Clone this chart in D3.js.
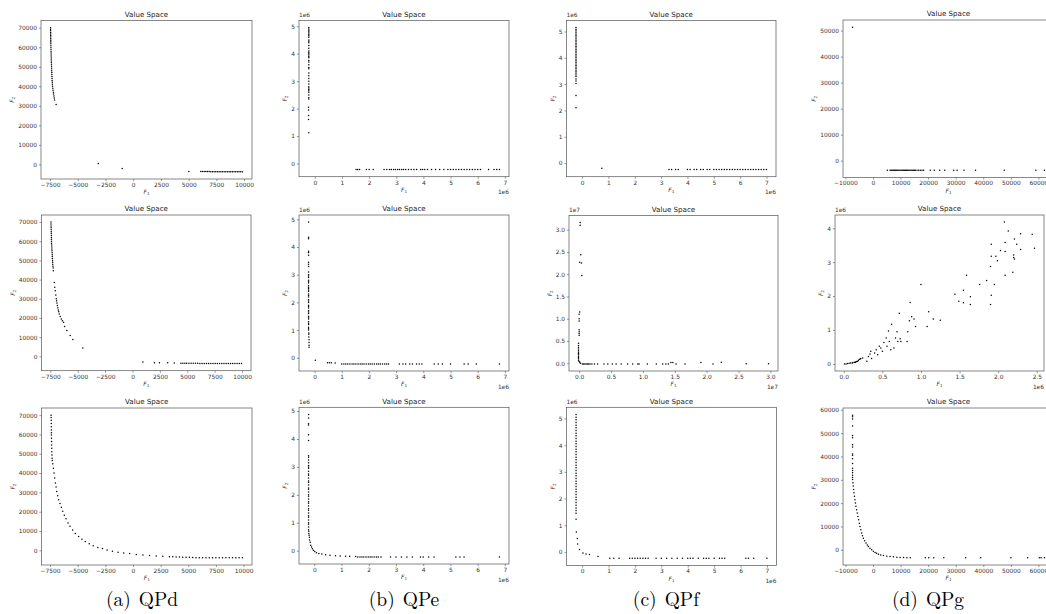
<!DOCTYPE html>
<html>
<head>
<meta charset="utf-8">
<script src="https://cdnjs.cloudflare.com/ajax/libs/d3/7.8.5/d3.min.js"></script>
<style>
  body { margin: 0; background: #fff; }
  svg { display: block; font-family: "DejaVu Sans", sans-serif; }
</style>
</head>
<body>
<svg id="fig" width="1046" height="614"></svg>
<script>
// points, [F1, F2]; e6 / e7 panels are stored in those units

// QPd, three runs
const qpdTop = [[-7450,70000],[-7450,69200],[-7448,68400],[-7446,67600],[-7444,66800],[-7442,66000],[-7440,65200],[-7438,64400],[-7435,63600],[-7432,62800],[-7428,62000],[-7424,61000],[-7420,60000],[-7415,59000],[-7410,58000],[-7405,57000],[-7400,56000],[-7395,55000],[-7390,54000],[-7385,53000],[-7380,52000],[-7372,51000],[-7365,50000],[-7358,49000],[-7350,48000],[-7342,47000],[-7334,46000],[-7326,45000],[-7318,44000],[-7310,43000],[-7300,42000],[-7290,41000],[-7270,40000],[-7250,39000],[-7230,38000],[-7200,37000],[-7180,36000],[-7150,35000],[-7120,34000],[-7090,33000],[-6950,30700],
  [-3150,500],[-990,-2070],[5020,-3600],[6100,-3650],[6250,-3650],[6400,-3700],[6550,-3700],[6700,-3700],[6850,-3700],[7000,-3750],[7150,-3750],[7300,-3750],[7450,-3750],[7600,-3750],[7750,-3800],[7900,-3800],[8050,-3800],[8200,-3800],[8350,-3800],[8500,-3800],[8650,-3800],[8800,-3800],[8950,-3800],[9100,-3800],[9250,-3800],[9400,-3800],[9550,-3800],[9700,-3800],[9850,-3800]];

const qpdMid = [[-7440,70000],[-7440,69000],[-7435,68000],[-7430,67000],[-7425,66000],[-7420,65000],[-7415,64000],[-7410,63000],[-7405,62000],[-7400,61000],[-7395,60000],[-7390,59000],[-7380,58000],[-7370,57000],[-7360,56000],[-7350,55000],[-7340,54000],[-7330,53000],[-7320,52000],[-7310,51000],[-7300,50000],[-7290,49000],[-7280,48000],[-7265,47000],[-7250,46000],[-7230,44600],[-7140,38500],[-7100,36000],[-7050,34200],[-7000,32000],[-6960,30000],[-6930,29000],[-6900,27800],[-6860,26500],[-6820,25300],[-6780,24200],[-6740,23200],[-6690,22100],[-6600,20800],[-6500,19500],[-6400,18600],[-6290,17800],[-6200,15500],[-5990,13500],[-5690,10900],[-5450,8800],[-4540,4300],
  [950,-2940],[2000,-3280],[2460,-3300],[3210,-3400],[3810,-3500],[4420,-3550],[4600,-3550],[4780,-3600],[4950,-3600],[5150,-3600],[5350,-3650],[5550,-3650],[5750,-3650],[5950,-3650],[6150,-3700],[6350,-3700],[6550,-3700],[6750,-3700],[6950,-3700],[7150,-3750],[7350,-3750],[7550,-3750],[7750,-3750],[7950,-3750],[8150,-3750],[8350,-3800],[8550,-3800],[8750,-3800],[8950,-3800],[9150,-3800],[9350,-3800],[9550,-3800],[9750,-3800],[9950,-3800]];

const qpdBottom = [[-7410,70000],[-7405,68800],[-7400,67400],[-7395,65700],[-7390,64000],[-7385,62300],[-7380,60900],[-7375,59700],[-7370,58000],[-7365,56300],[-7360,54600],[-7350,52800],[-7340,51100],[-7330,49400],[-7320,47700],[-7300,46500],
  [-7260,44800],[-7200,42500],[-7140,40000],[-7080,37400],[-7020,34800],[-6960,32800],[-6900,30500],[-6810,28300],[-6720,26200],[-6600,24200],[-6480,22300],[-6360,20200],[-6210,18200],[-6060,16300],[-5880,14200],[-5700,12500],[-5460,10500],[-5220,8700],[-4920,7200],[-4620,5800],[-4320,4600],[-3960,3400],[-3600,2400],[-3180,1500],[-2760,900],[-2340,200],[-1860,-500],[-1350,-1000],[-840,-1400],[-300,-1700],[300,-2100],[900,-2400],[1500,-2700],[2100,-2900],[2700,-3100],[3300,-3300],[3600,-3350],[3900,-3400],[4200,-3500],[4500,-3600],[4800,-3600],[5100,-3600],[5400,-3700],[5700,-3800],[6000,-3800],[6300,-3800],[6600,-3800],[6900,-3800],[7200,-3850],[7500,-3900],[7800,-3900],[8100,-3900],[8400,-3900],[8700,-3900],[9000,-3900],[9300,-3900],[9600,-3900],[9900,-3900]];

// QPe (x 1e6)
const qpeTop = [[-0.22,4.95],[-0.22,4.9],[-0.22,4.85],[-0.22,4.8],[-0.22,4.75],[-0.22,4.7],[-0.22,4.65],[-0.22,4.6],[-0.22,4.5],[-0.22,4.45],[-0.22,4.4],[-0.22,4.3],[-0.22,4.2],[-0.22,4.1],[-0.22,4.05],[-0.22,4.0],[-0.22,3.95],[-0.22,3.9],[-0.22,3.85],[-0.22,3.75],[-0.22,3.7],[-0.22,3.6],[-0.22,3.5],[-0.22,3.45],[-0.22,3.3],[-0.22,3.2],[-0.22,3.1],[-0.22,3.0],[-0.22,2.9],[-0.22,2.8],[-0.22,2.75],[-0.22,2.7],[-0.22,2.65],[-0.22,2.6],[-0.22,2.5],[-0.22,2.4],[-0.22,2.35],[-0.23,2.05],[-0.23,1.95],[-0.23,1.75],[-0.23,1.6],[-0.22,1.12],
  [1.52,-0.22],[1.58,-0.22],[1.65,-0.22],[1.9,-0.22],[2.0,-0.22],[2.15,-0.22],[2.55,-0.22],[2.65,-0.22],[2.75,-0.22],[2.82,-0.22],[2.9,-0.22],[2.97,-0.22],[3.05,-0.22],[3.12,-0.22],[3.2,-0.22],[3.27,-0.22],[3.35,-0.22],[3.45,-0.22],[3.55,-0.22],[3.65,-0.22],[3.75,-0.22],[3.9,-0.22],[3.97,-0.22],[4.05,-0.22],[4.15,-0.22],[4.3,-0.22],[4.45,-0.22],[4.6,-0.22],[4.75,-0.22],[4.9,-0.22],[5.0,-0.22],[5.1,-0.22],[5.2,-0.22],[5.3,-0.22],[5.4,-0.22],[5.5,-0.22],[5.6,-0.22],[5.7,-0.22],[5.8,-0.22],[5.9,-0.22],[6.0,-0.22],[6.1,-0.22],[6.4,-0.22],[6.6,-0.22],[6.7,-0.22],[6.8,-0.22]];

const qpeMid = [[-0.22,4.9],[-0.22,4.35],[-0.22,4.3],[-0.22,3.85],[-0.22,3.8],[-0.22,3.7],[-0.22,3.45],[-0.22,3.38],[-0.22,3.3],[-0.22,3.1],[-0.22,3.0],[-0.22,2.95],[-0.22,2.9],[-0.22,2.8],[-0.22,2.75],[-0.22,2.7],[-0.22,2.6],[-0.22,2.55],[-0.22,2.5],[-0.22,2.45],[-0.22,2.4],[-0.22,2.3],[-0.22,2.25],[-0.22,2.2],[-0.22,2.1],[-0.22,2.05],[-0.22,2.0],[-0.22,1.9],[-0.22,1.85],[-0.22,1.8],[-0.22,1.7],[-0.22,1.65],[-0.22,1.6],[-0.22,1.5],[-0.22,1.45],[-0.22,1.4],[-0.22,1.3],[-0.22,1.25],[-0.22,1.2],[-0.22,1.1],[-0.22,1.05],[-0.22,1.0],[-0.21,0.9],[-0.21,0.85],[-0.21,0.75],[-0.2,0.65],[-0.2,0.55],[-0.2,0.45],[-0.2,0.38],
  [0.03,-0.09],[0.48,-0.18],[0.55,-0.18],[0.62,-0.18],[0.76,-0.19],[1.0,-0.22],[1.08,-0.22],[1.15,-0.22],[1.22,-0.22],[1.3,-0.22],[1.38,-0.22],[1.45,-0.22],[1.52,-0.22],[1.6,-0.22],[1.68,-0.22],[1.75,-0.22],[1.82,-0.22],[1.9,-0.22],[1.98,-0.22],[2.05,-0.22],[2.12,-0.22],[2.2,-0.22],[2.28,-0.22],[2.35,-0.22],[2.42,-0.22],[2.5,-0.22],[2.58,-0.22],[2.65,-0.22],[2.72,-0.22],[3.12,-0.22],[3.25,-0.22],[3.35,-0.22],[3.5,-0.22],[3.6,-0.22],[3.75,-0.22],[3.85,-0.22],[3.95,-0.22],[4.4,-0.22],[4.55,-0.22],[4.7,-0.22],[5.0,-0.22],[5.5,-0.22],[5.65,-0.22],[5.95,-0.22],[6.8,-0.22]];

const qpeBottom = [[-0.21,4.88],[-0.21,4.75],[-0.21,4.55],[-0.21,4.5],[-0.21,4.15],[-0.21,3.95],[-0.21,3.4],[-0.21,3.35],[-0.21,3.25],[-0.21,3.15],[-0.21,3.05],[-0.21,3.0],[-0.21,2.95],[-0.21,2.85],[-0.21,2.75],[-0.21,2.7],[-0.21,2.6],[-0.21,2.5],[-0.21,2.45],[-0.21,2.35],[-0.21,2.25],[-0.21,2.2],[-0.21,2.1],[-0.21,2.0],[-0.21,1.95],[-0.21,1.85],[-0.21,1.75],[-0.21,1.7],[-0.21,1.6],[-0.21,1.5],[-0.21,1.45],[-0.21,1.35],[-0.21,1.25],[-0.21,1.2],[-0.21,1.1],[-0.21,1.0],[-0.21,0.95],[-0.21,0.85],[-0.21,0.75],[-0.2,0.7],[-0.2,0.62],[-0.19,0.55],
  [-0.18,0.48],[-0.17,0.38],[-0.15,0.3],[-0.13,0.2],[-0.1,0.13],[-0.07,0.07],[-0.03,0.02],[0.02,-0.03],[0.08,-0.07],[0.17,-0.1],[0.28,-0.12],[0.42,-0.14],[0.58,-0.16],[0.78,-0.18],[0.95,-0.19],[1.15,-0.2],[1.3,-0.2],[1.52,-0.21],[1.6,-0.22],[1.68,-0.22],[1.75,-0.22],[1.82,-0.22],[1.9,-0.22],[1.98,-0.22],[2.05,-0.22],[2.12,-0.22],[2.2,-0.22],[2.28,-0.22],[2.35,-0.22],[2.45,-0.22],[2.8,-0.22],[3.0,-0.22],[3.2,-0.22],[3.4,-0.22],[3.6,-0.22],[3.9,-0.22],[4.0,-0.22],[4.2,-0.22],[4.4,-0.22],[5.2,-0.22],[5.35,-0.22],[5.5,-0.22],[6.8,-0.22]];

// QPf (x 1e6, middle run x 1e7)
const qpfTop = [[-0.23,5.15],[-0.23,5.09],[-0.23,5.03],[-0.23,4.97],[-0.23,4.91],[-0.23,4.85],[-0.23,4.79],[-0.23,4.73],[-0.23,4.67],[-0.23,4.61],[-0.23,4.55],[-0.23,4.49],[-0.23,4.43],[-0.23,4.37],[-0.23,4.31],[-0.23,4.25],[-0.23,4.19],[-0.23,4.13],[-0.23,4.07],[-0.23,4.01],[-0.23,3.95],[-0.23,3.89],[-0.23,3.83],[-0.23,3.77],[-0.23,3.71],[-0.23,3.65],[-0.23,3.59],[-0.23,3.53],[-0.23,3.47],[-0.23,3.41],[-0.23,3.35],[-0.23,3.29],[-0.23,3.2],[-0.23,3.12],[-0.23,3.02],[-0.23,2.57],[-0.23,2.1],[0.75,-0.2],
  [3.3,-0.25],[3.4,-0.25],[3.55,-0.25],[3.65,-0.25],[4.0,-0.25],[4.1,-0.25],[4.25,-0.25],[4.35,-0.25],[4.5,-0.25],[4.6,-0.25],[4.75,-0.25],[4.85,-0.25],[5.0,-0.25],[5.1,-0.25],[5.2,-0.25],[5.3,-0.25],[5.4,-0.25],[5.5,-0.25],[5.6,-0.25],[5.7,-0.25],[5.8,-0.25],[5.9,-0.25],[6.0,-0.25],[6.1,-0.25],[6.2,-0.25],[6.3,-0.25],[6.4,-0.25],[6.5,-0.25],[6.6,-0.25],[6.7,-0.25],[6.8,-0.25],[6.9,-0.25],[7.0,-0.25]];

const qpfMid = [[0.016,3.16],[0.016,3.1],[0.026,2.44],[0.01,2.27],[0.037,2.25],[0.042,1.97],[0.01,1.15],[0,1.1],[0,1.0],[0,0.95],[0,0.75],[0,0.71],[0,0.67],[0,0.63],[-0.01,0.45],[-0.01,0.4],[-0.01,0.36],[-0.01,0.32],[-0.01,0.28],[-0.01,0.25],[-0.01,0.22],[-0.01,0.19],[-0.01,0.16],[-0.01,0.13],[-0.01,0.1],[-0.01,0.07],[0,0.04],[0.01,0.02],[0.02,0.0],
  [0.05,-0.015],[0.07,-0.015],[0.09,-0.015],[0.11,-0.015],[0.13,-0.015],[0.15,-0.015],[0.17,-0.015],[0.2,-0.015],[0.24,-0.015],[0.29,-0.015],[0.39,-0.015],[0.45,-0.015],[0.52,-0.015],[0.58,-0.015],[0.66,-0.015],[0.76,-0.015],[0.84,-0.015],[0.92,-0.015],[0.94,-0.015],[1.07,-0.015],[1.21,-0.015],[1.31,-0.015],[1.36,-0.015],[1.4,-0.015],[1.44,0.015],[1.47,0.015],[1.52,-0.015],[1.66,-0.015],[1.91,0.015],[2.1,-0.015],[2.23,0.02],[2.62,-0.01],[2.97,-0.01]];

const qpfBottom = [[-0.23,5.15],[-0.23,5.05],[-0.23,4.95],[-0.23,4.85],[-0.23,4.75],[-0.23,4.65],[-0.23,4.55],[-0.23,4.45],[-0.23,4.35],[-0.23,4.25],[-0.23,4.15],[-0.23,4.05],[-0.23,3.95],[-0.23,3.85],[-0.23,3.75],[-0.23,3.65],[-0.23,3.55],[-0.23,3.45],[-0.23,3.35],[-0.23,3.25],[-0.23,3.15],[-0.23,3.05],[-0.23,2.95],[-0.23,2.85],[-0.23,2.75],[-0.23,2.65],[-0.23,2.55],[-0.23,2.45],[-0.23,2.35],[-0.23,2.25],[-0.23,2.15],[-0.23,2.05],[-0.23,1.95],[-0.23,1.85],[-0.23,1.75],[-0.23,1.65],[-0.23,1.55],[-0.23,1.45],[-0.23,1.22],[-0.22,0.75],[-0.18,0.5],[-0.17,0.3],[-0.1,0.09],[0.03,-0.04],[0.15,-0.08],[0.28,-0.1],[0.6,-0.17],
  [1.05,-0.24],[1.2,-0.24],[1.4,-0.24],[1.8,-0.24],[1.9,-0.24],[2.0,-0.24],[2.1,-0.24],[2.2,-0.24],[2.3,-0.24],[2.4,-0.24],[2.5,-0.24],[2.8,-0.24],[3.0,-0.24],[3.2,-0.24],[3.4,-0.24],[3.6,-0.24],[3.8,-0.24],[4.0,-0.24],[4.1,-0.24],[4.2,-0.24],[4.4,-0.24],[4.6,-0.24],[4.7,-0.24],[4.8,-0.24],[5.0,-0.24],[5.2,-0.24],[5.3,-0.24],[5.4,-0.24],[6.2,-0.24],[6.3,-0.24],[6.5,-0.24],[7.0,-0.24]];

// QPg (middle run x 1e6)
const qpgTop = [[-7400,51300],
  [5230,-3700],[6200,-3700],[6600,-3700],[7000,-3700],[7400,-3700],[7800,-3700],[8200,-3700],[8600,-3700],[9000,-3700],[9400,-3700],[9800,-3700],[10200,-3700],[10600,-3700],[11000,-3700],[11400,-3700],[11800,-3700],[12200,-3700],[12600,-3700],[13000,-3700],[13400,-3700],[13800,-3700],[14200,-3700],[14600,-3700],[15000,-3700],[15400,-3700],[16000,-3700],[16600,-3700],[17200,-3700],[17800,-3700],[18370,-3700],[20800,-3700],[22260,-3700],[24200,-3700],[26030,-3700],[29300,-3700],[30500,-3700],[33000,-3700],[37200,-3700],[47600,-3700],[59100,-3700],[62200,-3700]];

const qpgMid = [[0.01,0],[0.03,0],[0.05,0.01],[0.07,0.02],[0.09,0.03],[0.11,0.03],[0.12,0.04],[0.14,0.05],[0.15,0.05],[0.16,0.06],[0.17,0.07],[0.18,0.08],[0.19,0.1],[0.2,0.13],[0.21,0.14],[0.22,0.16],[0.245,0.175],[0.3,0.08],[0.32,0.22],[0.34,0.29],[0.35,0.37],[0.36,0.16],[0.4,0.32],[0.42,0.42],[0.44,0.27],[0.46,0.52],[0.48,0.47],[0.5,0.37],[0.52,0.63],[0.55,0.76],[0.56,0.52],[0.58,0.97],[0.59,0.66],[0.61,0.42],[0.62,1.17],[0.65,0.47],[0.67,0.76],[0.69,0.95],[0.7,0.66],[0.72,1.49],[0.73,0.74],[0.74,0.66],[0.82,0.66],[0.83,0.95],[0.85,1.27],[0.86,1.81],[0.88,1.39],[0.91,1.32],[0.93,1.1],[1.0,2.34],[1.08,1.1],[1.1,1.54],[1.16,1.32],[1.25,1.29],[1.44,2.05],[1.49,1.85],[1.55,2.17],[1.55,1.8],[1.59,2.61],[1.64,1.98],[1.64,1.75],[1.76,2.34],[1.85,2.46],[1.9,2.87],[1.91,3.53],[1.91,3.17],[1.91,2.02],[1.9,1.75],[1.95,2.34],[1.97,3.17],[1.99,3.04],[2.03,3.34],[2.08,4.18],[2.09,3.58],[2.09,3.31],[2.09,2.61],[2.13,3.92],[2.19,2.7],[2.2,3.21],[2.2,3.14],[2.21,3.09],[2.21,3.68],[2.24,3.53],[2.29,3.84],[2.29,3.37],[2.44,3.82],[2.47,3.41]];

const qpgBottom = [[-7420,57700],[-7420,57000],[-7420,56000],[-7420,53000],[-7420,49000],[-7420,48000],[-7420,45000],[-7420,44000],[-7420,41000],[-7420,40500],[-7420,39000],[-7420,37000],[-7420,35000],[-7420,34000],[-7420,33000],[-7420,32000],[-7420,31000],[-7420,30100],
  [-7300,28700],[-7180,27300],[-7050,25800],[-6930,24400],[-6750,23000],[-6570,21500],[-6380,20100],[-6200,18700],[-5960,17200],[-5720,15800],[-5480,14300],[-5230,12900],[-4980,11400],[-4740,10000],[-4440,8600],[-4140,7200],[-3840,6000],[-3530,5000],[-3050,3900],[-2550,2900],[-2100,2100],[-1700,1400],[-1100,700],[-490,0],[120,-600],[730,-1150],[1300,-1500],[1950,-1870],[2800,-2200],[3770,-2440],[5000,-2700],[6200,-2870],[7400,-3000],[8640,-3160],[9800,-3250],[11070,-3300],[12300,-3380],[13500,-3440],
  [18980,-3440],[20200,-3440],[22020,-3440],[25670,-3440],[33580,-3440],[39050,-3440],[50000,-3440],[56080,-3440],[60340,-3440],[60950,-3440],[62170,-3440]];

// tick values
const qpdF1Ticks = [-7500, -5000, -2500, 0, 2500, 5000, 7500, 10000];
const qpdF2Ticks = [0, 10000, 20000, 30000, 40000, 50000, 60000, 70000];
const e6F1Ticks = [0, 1, 2, 3, 4, 5, 6, 7];
const e6F2Ticks = [0, 1, 2, 3, 4, 5];
const qpfMidTicks = [0, 0.5, 1, 1.5, 2, 2.5, 3];
const qpgF1Ticks = [-10000, 0, 10000, 20000, 30000, 40000, 50000, 60000];
const qpgTopF2Ticks = [0, 10000, 20000, 30000, 40000, 50000];
const qpgMidF1Ticks = [0, 0.5, 1, 1.5, 2, 2.5];
const qpgMidF2Ticks = [0, 1, 2, 3, 4];
const qpgBottomF2Ticks = [0, 10000, 20000, 30000, 40000, 50000, 60000];

const captionLetters = ["(a)", "(b)", "(c)", "(d)"];
const captionNames = ["QPd", "QPe", "QPf", "QPg"];

const svg = d3.select("#fig");
const fmtInt = d3.format("d");
const fmt1 = d3.format(".1f");

const panels = [
  {pts: qpdTop, xt: qpdF1Ticks, yt: qpdF2Ticks, xf: fmtInt, yf: fmtInt, box: {l: 41, r: 252, t: 20.5, b: 179}},
  {pts: qpeTop, xt: e6F1Ticks, yt: e6F2Ticks, xf: fmtInt, yf: fmtInt, off: "1e6", box: {l: 299, r: 509, t: 20.5, b: 176.7}},
  {pts: qpfTop, xt: e6F1Ticks, yt: e6F2Ticks, xf: fmtInt, yf: fmtInt, off: "1e6", box: {l: 566.5, r: 776, t: 20.5, b: 176.7}},
  {pts: qpgTop, xt: qpgF1Ticks, yt: qpgTopF2Ticks, xf: fmtInt, yf: fmtInt, box: {l: 843, r: 1054, t: 20, b: 177.5}},
  {pts: qpdMid, xt: qpdF1Ticks, yt: qpdF2Ticks, xf: fmtInt, yf: fmtInt, box: {l: 41.5, r: 251, t: 215, b: 370.7}},
  {pts: qpeMid, xt: e6F1Ticks, yt: e6F2Ticks, xf: fmtInt, yf: fmtInt, off: "1e6", box: {l: 299, r: 509, t: 215, b: 371}},
  {pts: qpfMid, xt: qpfMidTicks, yt: qpfMidTicks, xf: fmt1, yf: fmt1, off: "1e7", box: {l: 569, r: 778, t: 215.5, b: 371}},
  {pts: qpgMid, xt: qpgMidF1Ticks, yt: qpgMidF2Ticks, xf: fmt1, yf: fmtInt, off: "1e6", box: {l: 835, r: 1044, t: 215, b: 371}},
  {pts: qpdBottom, xt: qpdF1Ticks, yt: qpdF2Ticks, xf: fmtInt, yf: fmtInt, box: {l: 41.5, r: 252, t: 408, b: 565}},
  {pts: qpeBottom, xt: e6F1Ticks, yt: e6F2Ticks, xf: fmtInt, yf: fmtInt, off: "1e6", box: {l: 299, r: 509, t: 407.3, b: 564}},
  {pts: qpfBottom, xt: e6F1Ticks, yt: e6F2Ticks, xf: fmtInt, yf: fmtInt, off: "1e6", box: {l: 566.5, r: 776.5, t: 407.3, b: 565.5}},
  {pts: qpgBottom, xt: qpgF1Ticks, yt: qpgBottomF2Ticks, xf: fmtInt, yf: fmtInt, box: {l: 843, r: 1054, t: 408, b: 565}}
];

const tickFont = 5.9;

function mathLabel(sel, sub) {
  sel.append("tspan").attr("font-style", "italic").text("F");
  sel.append("tspan").attr("font-size", tickFont * 0.7).attr("dy", 1.3).text(sub);
}

function drawPanel(p) {
  const {l, r, t, b} = p.box;
  const g = svg.append("g");

  // matplotlib style 5% margins
  const [x0, x1] = d3.extent(p.pts, d => d[0]);
  const [y0, y1] = d3.extent(p.pts, d => d[1]);
  const mx = (x1 - x0) * 0.05, my = (y1 - y0) * 0.05;
  const x = d3.scaleLinear().domain([x0 - mx, x1 + mx]).range([l, r]);
  const y = d3.scaleLinear().domain([y0 - my, y1 + my]).range([b, t]);

  g.selectAll("circle")
    .data(p.pts)
    .join("circle")
    .attr("cx", d => x(d[0]))
    .attr("cy", d => y(d[1]))
    .attr("r", 0.75)
    .attr("fill", "#000");

  g.append("rect")
    .attr("x", l).attr("y", t)
    .attr("width", r - l).attr("height", b - t)
    .attr("fill", "none")
    .attr("stroke", "#555")
    .attr("stroke-width", 0.7);

  const xAxis = g.append("g")
    .attr("transform", `translate(0,${b})`)
    .call(d3.axisBottom(x).tickValues(p.xt).tickFormat(p.xf).tickSize(2.1).tickPadding(1.6));
  const yAxis = g.append("g")
    .attr("transform", `translate(${l},0)`)
    .call(d3.axisLeft(y).tickValues(p.yt).tickFormat(p.yf).tickSize(2.1).tickPadding(1.8));

  [xAxis, yAxis].forEach(ax => {
    ax.select(".domain").remove();
    ax.selectAll(".tick line").attr("stroke", "#555").attr("stroke-width", 0.6);
    ax.selectAll(".tick text")
      .attr("fill", "#333")
      .attr("font-size", tickFont)
      .attr("font-family", "DejaVu Sans");
  });

  g.append("text")
    .attr("x", (l + r) / 2)
    .attr("y", t - 3.6)
    .attr("text-anchor", "middle")
    .attr("font-size", 7.1)
    .attr("fill", "#222")
    .text("Value Space");

  g.append("text")
    .attr("x", (l + r) / 2)
    .attr("y", b + 15)
    .attr("text-anchor", "middle")
    .attr("font-size", tickFont)
    .attr("fill", "#333")
    .call(mathLabel, "1");

  // y label sits left of the widest tick label
  const tickW = d3.max(yAxis.selectAll(".tick text").nodes(), n => n.getComputedTextLength());
  const ly = (t + b) / 2;
  const lx = l - 3.9 - tickW - 4.2;
  g.append("text")
    .attr("transform", `translate(${lx},${ly}) rotate(-90)`)
    .attr("text-anchor", "middle")
    .attr("font-size", tickFont)
    .attr("fill", "#333")
    .call(mathLabel, "2");

  if (p.off) {
    g.append("text")
      .attr("x", l).attr("y", t - 3.2)
      .attr("font-size", tickFont).attr("fill", "#333")
      .text(p.off);
    g.append("text")
      .attr("x", r).attr("y", b + 17.5)
      .attr("text-anchor", "end")
      .attr("font-size", tickFont).attr("fill", "#333")
      .text(p.off);
  }
}

panels.forEach(drawPanel);

// sub-captions under each column
const captionX = d3.scalePoint().domain(captionNames).range([142, 928]);
const caps = svg.append("g")
  .attr("font-family", "'Latin Modern Roman', 'CMU Serif', 'Liberation Serif', serif")
  .attr("font-size", 19.5)
  .attr("fill", "#000");
captionNames.forEach((name, i) => {
  const t = caps.append("text")
    .attr("x", captionX(name))
    .attr("y", 606)
    .attr("text-anchor", "middle");
  t.append("tspan").text(captionLetters[i]);
  t.append("tspan").attr("dx", 8).text(name);
});
</script>
</body>
</html>
